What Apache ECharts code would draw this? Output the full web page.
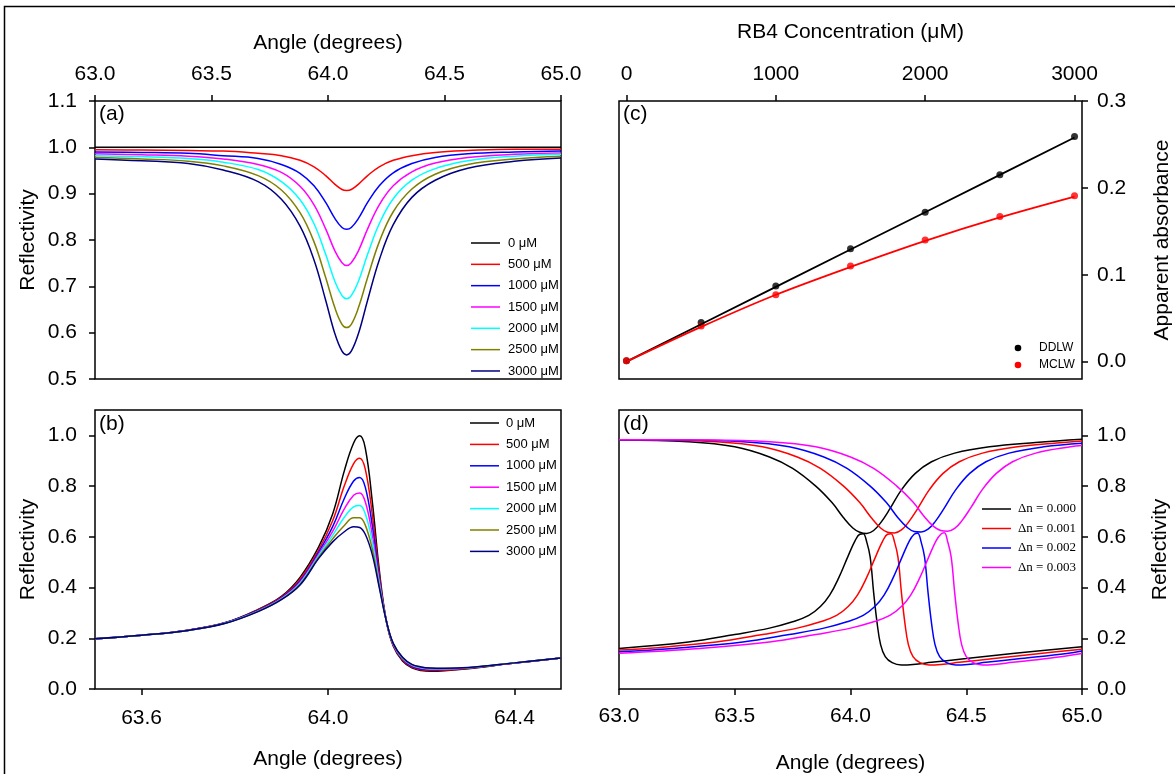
<!DOCTYPE html>
<html>
<head>
<meta charset="utf-8">
<script src="https://cdn.jsdelivr.net/npm/echarts@6/dist/echarts.min.js"></script>
<style>
  html, body { margin: 0; padding: 0; background: #fff; }
  #chart { width: 1175px; height: 774px; }
</style>
</head>
<body>
<div id="chart"></div>
<script>
// ---------- (a) reflectivity dips vs. angle, one curve per RB4 concentration ----------
const concLabels = ['0 μM', '500 μM', '1000 μM', '1500 μM', '2000 μM', '2500 μM', '3000 μM'];
const concColors = ['#000000', '#ff0000', '#0000ff', '#ff00ff', '#00ffff', '#808000', '#000080'];

const angleA = [63.0, 63.2, 63.4, 63.55, 63.7, 63.8, 63.88, 63.94, 63.99, 64.03, 64.06,
                64.08, 64.1, 64.13, 64.17, 64.22, 64.28, 64.36, 64.46, 64.6, 64.8, 65.0];
const reflA0    = [1, 1, 1, 1, 1, 1, 1, 1, 1, 1, 1, 1, 1, 1, 1, 1, 1, 1, 1, 1, 1, 1];
const reflA500  = [0.995, 0.994, 0.993, 0.992, 0.987, 0.982, 0.972, 0.958, 0.939, 0.920, 0.909,
                   0.907, 0.909, 0.920, 0.939, 0.958, 0.972, 0.982, 0.989, 0.993, 0.996, 0.996];
const reflA1000 = [0.990, 0.989, 0.987, 0.982, 0.976, 0.963, 0.944, 0.917, 0.881, 0.846, 0.827,
                   0.823, 0.827, 0.846, 0.881, 0.917, 0.945, 0.965, 0.978, 0.986, 0.990, 0.992];
const reflA1500 = [0.986, 0.984, 0.981, 0.975, 0.963, 0.946, 0.916, 0.876, 0.824, 0.776, 0.751,
                   0.745, 0.751, 0.776, 0.824, 0.876, 0.917, 0.947, 0.966, 0.978, 0.985, 0.988];
const reflA2000 = [0.982, 0.980, 0.976, 0.968, 0.952, 0.926, 0.887, 0.835, 0.769, 0.710, 0.680,
                   0.673, 0.680, 0.710, 0.769, 0.835, 0.889, 0.929, 0.954, 0.971, 0.981, 0.985];
const reflA2500 = [0.978, 0.975, 0.970, 0.960, 0.939, 0.908, 0.859, 0.796, 0.719, 0.653, 0.618,
                   0.611, 0.618, 0.653, 0.719, 0.796, 0.861, 0.910, 0.942, 0.963, 0.975, 0.981];
const reflA3000 = [0.975, 0.971, 0.965, 0.951, 0.926, 0.888, 0.830, 0.757, 0.670, 0.597, 0.560,
                   0.552, 0.560, 0.597, 0.670, 0.757, 0.833, 0.892, 0.929, 0.955, 0.970, 0.977];
const reflA = [reflA0, reflA500, reflA1000, reflA1500, reflA2000, reflA2500, reflA3000];

// ---------- (b) resonance peaks vs. angle ----------
const angleB = [63.5, 63.6, 63.7, 63.78, 63.85, 63.9, 63.94, 63.98, 64.01, 64.035, 64.055, 64.068,
                64.08, 64.095, 64.11, 64.125, 64.14, 64.16, 64.18, 64.2, 64.22, 64.25, 64.3, 64.4, 64.5];
const reflB0    = [0.198, 0.212, 0.232, 0.262, 0.314, 0.365, 0.440, 0.560, 0.690, 0.860, 0.970, 0.998,
                   0.950, 0.740, 0.470, 0.270, 0.170, 0.110, 0.083, 0.073, 0.070, 0.072, 0.080, 0.102, 0.122];
const reflB500  = [0.198, 0.212, 0.232, 0.261, 0.312, 0.362, 0.433, 0.549, 0.663, 0.801, 0.889, 0.910,
                   0.867, 0.689, 0.453, 0.270, 0.172, 0.114, 0.086, 0.076, 0.073, 0.074, 0.081, 0.102, 0.122];
const reflB1000 = [0.198, 0.212, 0.232, 0.261, 0.310, 0.359, 0.426, 0.540, 0.640, 0.751, 0.820, 0.834,
                   0.796, 0.645, 0.438, 0.270, 0.175, 0.117, 0.089, 0.079, 0.076, 0.077, 0.082, 0.102, 0.122];
const reflB1500 = [0.198, 0.212, 0.231, 0.260, 0.308, 0.357, 0.421, 0.532, 0.621, 0.710, 0.764, 0.773,
                   0.738, 0.609, 0.426, 0.270, 0.176, 0.119, 0.092, 0.082, 0.078, 0.078, 0.083, 0.103, 0.122];
const reflB2000 = [0.198, 0.212, 0.231, 0.260, 0.307, 0.355, 0.417, 0.526, 0.606, 0.677, 0.718, 0.723,
                   0.691, 0.580, 0.417, 0.270, 0.178, 0.121, 0.094, 0.084, 0.080, 0.080, 0.084, 0.103, 0.122];
const reflB2500 = [0.198, 0.212, 0.231, 0.259, 0.306, 0.353, 0.413, 0.520, 0.592, 0.645, 0.675, 0.675,
                   0.646, 0.552, 0.407, 0.270, 0.179, 0.123, 0.096, 0.086, 0.082, 0.081, 0.084, 0.103, 0.122];
const reflB3000 = [0.198, 0.212, 0.231, 0.259, 0.305, 0.352, 0.410, 0.515, 0.580, 0.620, 0.640, 0.637,
                   0.610, 0.530, 0.400, 0.270, 0.180, 0.125, 0.097, 0.087, 0.083, 0.082, 0.085, 0.103, 0.122];
const reflB = [reflB0, reflB500, reflB1000, reflB1500, reflB2000, reflB2500, reflB3000];

// ---------- (c) apparent absorbance vs. RB4 concentration ----------
const concC = [0, 500, 1000, 1500, 2000, 2500, 3000];
const ddlwAbs = [0.001, 0.045, 0.087, 0.130, 0.172, 0.215, 0.259];
const mclwAbs = [0.001, 0.041, 0.077, 0.110, 0.140, 0.167, 0.191];
const ddlwFit = [0.000, 0.043, 0.086, 0.129, 0.172, 0.215, 0.258];
const mclwFit = [0.000, 0.040, 0.077, 0.109, 0.139, 0.166, 0.190];
const absLegend = ['DDLW', 'MCLW'];

// ---------- (d) reflectivity for refractive-index shifts ----------
const dnLabels = ['Δn = 0.000', 'Δn = 0.001', 'Δn = 0.002', 'Δn = 0.003'];
const dnColors = ['#000000', '#ff0000', '#0000ff', '#ff00ff'];

const dipAngle0 = [63.0, 63.3, 63.5, 63.65, 63.75, 63.85, 63.92, 63.97, 64.01, 64.04, 64.07,
                   64.1, 64.13, 64.17, 64.22, 64.28, 64.35, 64.45, 64.6, 64.8, 65.0];
const dipRefl0  = [0.982, 0.975, 0.955, 0.915, 0.870, 0.800, 0.735, 0.675, 0.635, 0.618, 0.613,
                   0.625, 0.655, 0.710, 0.785, 0.850, 0.896, 0.930, 0.955, 0.972, 0.985];
const dipAngle1 = [63.0, 63.12, 63.42, 63.62, 63.77, 63.87, 63.97, 64.04, 64.09, 64.13, 64.16,
                   64.19, 64.22, 64.25, 64.29, 64.34, 64.40, 64.47, 64.57, 64.72, 64.92, 65.0];
const dipRefl1  = [0.983, 0.982, 0.975, 0.955, 0.915, 0.870, 0.800, 0.735, 0.675, 0.635, 0.618,
                   0.615, 0.627, 0.657, 0.711, 0.785, 0.850, 0.896, 0.930, 0.955, 0.972, 0.978];
const dipAngle2 = [63.0, 63.235, 63.535, 63.735, 63.885, 63.985, 64.085, 64.155, 64.205, 64.245, 64.275,
                   64.305, 64.335, 64.365, 64.405, 64.455, 64.515, 64.585, 64.685, 64.835, 65.0];
const dipRefl2  = [0.983, 0.982, 0.975, 0.955, 0.915, 0.870, 0.800, 0.735, 0.675, 0.637, 0.621,
                   0.619, 0.630, 0.659, 0.713, 0.786, 0.850, 0.896, 0.930, 0.955, 0.969];
const dipAngle3 = [63.0, 63.35, 63.65, 63.85, 64.0, 64.1, 64.2, 64.27, 64.32, 64.36, 64.39,
                   64.42, 64.45, 64.48, 64.52, 64.57, 64.63, 64.70, 64.80, 64.95, 65.0];
const dipRefl3  = [0.983, 0.982, 0.975, 0.955, 0.915, 0.870, 0.800, 0.737, 0.678, 0.640, 0.625,
                   0.622, 0.633, 0.662, 0.715, 0.787, 0.850, 0.896, 0.930, 0.955, 0.960];

const peakAngle0 = [63.0, 63.3, 63.5, 63.65, 63.75, 63.82, 63.87, 63.91, 63.95, 63.99, 64.02, 64.04, 64.055,
                    64.07, 64.085, 64.1, 64.115, 64.13, 64.15, 64.18, 64.22, 64.27, 64.35, 64.5, 64.7, 65.0];
const peakRefl0  = [0.160, 0.185, 0.215, 0.240, 0.265, 0.290, 0.325, 0.370, 0.440, 0.525, 0.585, 0.610, 0.612,
                    0.580, 0.520, 0.380, 0.260, 0.175, 0.128, 0.104, 0.095, 0.097, 0.105, 0.120, 0.140, 0.167];
const peakAngle1 = [63.0, 63.12, 63.42, 63.62, 63.77, 63.87, 63.94, 63.99, 64.03, 64.07, 64.11, 64.14, 64.16, 64.175,
                    64.19, 64.205, 64.22, 64.235, 64.25, 64.27, 64.30, 64.34, 64.39, 64.47, 64.62, 64.82, 65.0];
const peakRefl1  = [0.154, 0.160, 0.185, 0.215, 0.240, 0.265, 0.290, 0.325, 0.370, 0.440, 0.525, 0.585, 0.610, 0.612,
                    0.580, 0.520, 0.380, 0.260, 0.175, 0.128, 0.104, 0.095, 0.097, 0.105, 0.120, 0.140, 0.157];
const peakAngle2 = [63.0, 63.235, 63.535, 63.735, 63.885, 63.985, 64.055, 64.105, 64.145, 64.185, 64.225, 64.255, 64.275, 64.29,
                    64.305, 64.32, 64.335, 64.35, 64.365, 64.385, 64.415, 64.455, 64.505, 64.585, 64.735, 64.935, 65.0];
const peakRefl2  = [0.147, 0.160, 0.185, 0.215, 0.240, 0.265, 0.290, 0.325, 0.370, 0.440, 0.525, 0.585, 0.610, 0.614,
                    0.580, 0.520, 0.380, 0.260, 0.175, 0.128, 0.104, 0.095, 0.097, 0.105, 0.120, 0.140, 0.150];
const peakAngle3 = [63.0, 63.35, 63.65, 63.85, 64.0, 64.1, 64.17, 64.22, 64.26, 64.30, 64.34, 64.37, 64.39,
                    64.405, 64.42, 64.435, 64.45, 64.465, 64.48, 64.50, 64.53, 64.57, 64.62, 64.70, 64.85, 65.0];
const peakRefl3  = [0.141, 0.160, 0.185, 0.215, 0.240, 0.265, 0.290, 0.325, 0.370, 0.440, 0.525, 0.585, 0.610,
                    0.616, 0.580, 0.520, 0.380, 0.260, 0.175, 0.128, 0.104, 0.095, 0.097, 0.105, 0.120, 0.140];

const dipAngles  = [dipAngle0, dipAngle1, dipAngle2, dipAngle3];
const dipRefls   = [dipRefl0, dipRefl1, dipRefl2, dipRefl3];
const peakAngles = [peakAngle0, peakAngle1, peakAngle2, peakAngle3];
const peakRefls  = [peakRefl0, peakRefl1, peakRefl2, peakRefl3];

// ---------- tick positions ----------
const ticksAngleWide = [63.0, 63.5, 64.0, 64.5, 65.0];
const ticksAngleZoom = [63.6, 64.0, 64.4];
const ticksReflA = [0.5, 0.6, 0.7, 0.8, 0.9, 1.0, 1.1];
const ticksRefl = [0.0, 0.2, 0.4, 0.6, 0.8, 1.0];
const ticksConc = [0, 1000, 2000, 3000];
const ticksAbs = [0.0, 0.1, 0.2, 0.3];

// ---------- helpers ----------
const SANS = '"Liberation Sans", Arial, Helvetica, sans-serif';
const SERIF = '"Liberation Serif", "Times New Roman", serif';
const FS = 21;

function pairs(xs, ys) { return xs.map((x, i) => [x, ys[i]]); }

function axis(o) {
  return {
    type: 'value',
    gridIndex: o.grid,
    position: o.position,
    min: o.min, max: o.max,
    name: o.name || '',
    nameLocation: 'middle',
    nameGap: o.nameGap,
    nameRotate: o.nameRotate,
    nameTextStyle: { fontSize: FS, fontFamily: SANS, color: '#000' },
    axisLine: { show: false, onZero: false },
    splitLine: { show: false },
    axisTick: {
      show: !!o.ticks, inside: false, length: 6,
      customValues: o.ticks || [],
      lineStyle: { color: '#000', width: 1.5 }
    },
    axisLabel: {
      show: !!o.ticks,
      customValues: o.ticks || [],
      margin: o.margin,
      fontSize: FS, fontFamily: SANS, color: '#000',
      formatter: o.fmt
    }
  };
}
const f1 = v => Number(v).toFixed(1);
const f0 = v => String(Math.round(v));

const gridStyle = { show: true, borderColor: '#000', borderWidth: 1.5, backgroundColor: 'transparent', containLabel: false, outerBoundsMode: 'none' };

const series = [];
// (a)
reflA.forEach((ys, i) => series.push({
  type: 'line', xAxisIndex: 0, yAxisIndex: 0, name: concLabels[i],
  data: pairs(angleA, ys), symbol: 'none', smooth: 0.4,
  lineStyle: { color: concColors[i], width: 1.5 }
}));
// (b)
reflB.forEach((ys, i) => series.push({
  type: 'line', xAxisIndex: 1, yAxisIndex: 1, name: concLabels[i],
  data: pairs(angleB, ys), symbol: 'none', smooth: 0.4,
  lineStyle: { color: concColors[i], width: 1.5 }
}));
// (c)
series.push({ type: 'line', xAxisIndex: 2, yAxisIndex: 2, data: pairs(concC, ddlwFit), symbol: 'none',
  lineStyle: { color: '#000', width: 1.8 } });
series.push({ type: 'line', xAxisIndex: 2, yAxisIndex: 2, data: pairs(concC, mclwFit), symbol: 'none', smooth: 0.3,
  lineStyle: { color: '#ff0000', width: 1.8 } });
series.push({ type: 'scatter', xAxisIndex: 2, yAxisIndex: 2, name: absLegend[0], data: pairs(concC, ddlwAbs),
  symbolSize: 7, itemStyle: { color: '#000' } });
series.push({ type: 'scatter', xAxisIndex: 2, yAxisIndex: 2, name: absLegend[1], data: pairs(concC, mclwAbs),
  symbolSize: 7, itemStyle: { color: '#ff0000' } });
// (d)
for (let i = 0; i < 4; i++) {
  series.push({ type: 'line', xAxisIndex: 3, yAxisIndex: 3, name: dnLabels[i],
    data: pairs(dipAngles[i], dipRefls[i]), symbol: 'none', smooth: 0.4,
    lineStyle: { color: dnColors[i], width: 1.5 } });
  series.push({ type: 'line', xAxisIndex: 3, yAxisIndex: 3, name: dnLabels[i],
    data: pairs(peakAngles[i], peakRefls[i]), symbol: 'none', smooth: 0.4,
    lineStyle: { color: dnColors[i], width: 1.5 } });
}

// ---------- legends, panel tags and frame as graphic elements ----------
const graphics = [];
graphics.push({ type: 'rect', silent: true, z: 0,
  shape: { x: 4.5, y: 6.5, width: 1400, height: 1000 },
  style: { fill: 'none', stroke: '#000', lineWidth: 1.5 } });

function lineLegend(labels, colors, x1, x2, tx, y0, step, font) {
  labels.forEach((lab, i) => {
    const y = y0 + i * step;
    graphics.push({ type: 'line', silent: true, shape: { x1: x1, y1: y, x2: x2, y2: y },
      style: { stroke: colors[i], lineWidth: 1.5 } });
    graphics.push({ type: 'text', silent: true, x: tx, y: y,
      style: { text: lab, fill: '#000', font: font, align: 'left', verticalAlign: 'middle' } });
  });
}
lineLegend(concLabels, concColors, 471, 500, 508, 243, 21.33, '13px ' + SANS);
lineLegend(concLabels, concColors, 470, 499, 506, 423, 21.4, '13px ' + SANS);
lineLegend(dnLabels, dnColors, 982, 1011, 1018, 509, 19.5, '13px ' + SERIF);

[['#000', 348], ['#ff0000', 365]].forEach((d, i) => {
  graphics.push({ type: 'circle', silent: true, shape: { cx: 1018, cy: d[1], r: 3.3 }, style: { fill: d[0] } });
  graphics.push({ type: 'text', silent: true, x: 1039, y: d[1],
    style: { text: absLegend[i], fill: '#000', font: '12px ' + SANS, align: 'left', verticalAlign: 'middle' } });
});

[['(a)', 99, 114], ['(b)', 99, 424], ['(c)', 623, 114], ['(d)', 623, 424]].forEach(p => {
  graphics.push({ type: 'text', silent: true, x: p[1], y: p[2],
    style: { text: p[0], fill: '#000', font: FS + 'px ' + SANS, align: 'left', verticalAlign: 'middle' } });
});

const option = {
  animation: false,
  backgroundColor: '#ffffff',
  grid: [
    Object.assign({ left: 95, top: 101, width: 466, height: 278 }, gridStyle),
    Object.assign({ left: 95, top: 410, width: 466, height: 279 }, gridStyle),
    Object.assign({ left: 619, top: 101, width: 463, height: 278 }, gridStyle),
    Object.assign({ left: 619, top: 410, width: 463, height: 279 }, gridStyle)
  ],
  xAxis: [
    axis({ grid: 0, position: 'top', min: 63, max: 65, ticks: ticksAngleWide, fmt: f1, margin: 16,
           name: 'Angle (degrees)', nameGap: 47 }),
    axis({ grid: 1, position: 'bottom', min: 63.5, max: 64.5, ticks: ticksAngleZoom, fmt: f1, margin: 19,
           name: 'Angle (degrees)', nameGap: 60 }),
    axis({ grid: 2, position: 'top', min: -50, max: 3050, ticks: ticksConc, fmt: f0, margin: 16,
           name: 'RB4 Concentration (μM)', nameGap: 58 }),
    axis({ grid: 3, position: 'bottom', min: 63, max: 65, ticks: ticksAngleWide, fmt: f1, margin: 17,
           name: 'Angle (degrees)', nameGap: 64 })
  ],
  yAxis: [
    axis({ grid: 0, position: 'left', min: 0.5, max: 1.1, ticks: ticksReflA, fmt: f1, margin: 18,
           name: 'Reflectivity', nameGap: 56, nameRotate: 90 }),
    axis({ grid: 1, position: 'left', min: 0, max: 1.1, ticks: ticksRefl, fmt: f1, margin: 18,
           name: 'Reflectivity', nameGap: 56, nameRotate: 90 }),
    axis({ grid: 2, position: 'right', min: -0.02, max: 0.3, ticks: ticksAbs, fmt: f1, margin: 15,
           name: 'Apparent absorbance', nameGap: 70, nameRotate: 90 }),
    axis({ grid: 3, position: 'right', min: 0, max: 1.1, ticks: ticksRefl, fmt: f1, margin: 15,
           name: 'Reflectivity', nameGap: 68, nameRotate: 90 })
  ],
  series: series,
  graphic: graphics
};

const chart = echarts.init(document.getElementById('chart'), null, { renderer: 'canvas' });
chart.setOption(option);
</script>
</body>
</html>
